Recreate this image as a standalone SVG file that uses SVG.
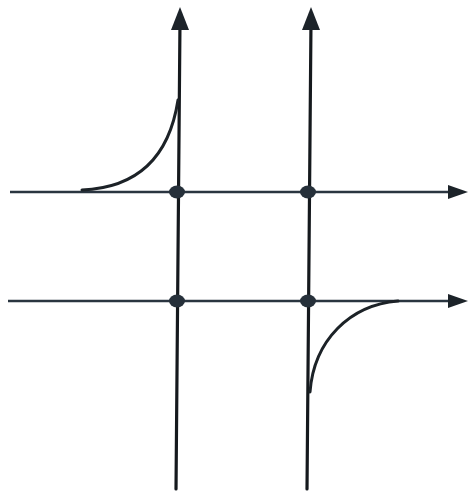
<svg xmlns="http://www.w3.org/2000/svg" width="471" height="495" viewBox="0 0 471 495">
<defs>
<style>
.v{stroke:#15191d;stroke-width:3.2;fill:none;stroke-linecap:round}
.h{stroke:#2a3540;stroke-width:2.6;fill:none}
.c{stroke:#1c2227;stroke-width:3;fill:none;stroke-linecap:round}
.d{fill:#26303a}
.a{fill:#1c2329}
</style>
</defs>
<rect width="471" height="495" fill="#ffffff"/>
<g id="connectors">
<line class="v" x1="180" y1="20" x2="176" y2="489"/>
<line class="v" x1="311" y1="20" x2="307" y2="489"/>
<line class="h" x1="10" y1="192" x2="455" y2="192"/>
<line class="h" x1="8" y1="301" x2="455" y2="301"/>
<path class="c" d="M 82 190 C 130 188, 168 165, 178 100"/>
<path class="c" d="M 310 392 C 314 340, 350 305, 398 301"/>
<polygon class="a" points="180,7 171,30 189,30"/>
<polygon class="a" points="311,7 302,30 320,30"/>
<polygon class="a" points="468,192 448,185 448,199"/>
<polygon class="a" points="468,301 448,294 448,308"/>
</g>
<g id="n1"><ellipse class="d" cx="177" cy="192" rx="8" ry="6.5"/></g>
<g id="n2"><ellipse class="d" cx="308" cy="192" rx="8" ry="6.5"/></g>
<g id="n3"><ellipse class="d" cx="177" cy="301" rx="8" ry="6.5"/></g>
<g id="n4"><ellipse class="d" cx="308" cy="301" rx="8" ry="6.5"/></g>
</svg>
